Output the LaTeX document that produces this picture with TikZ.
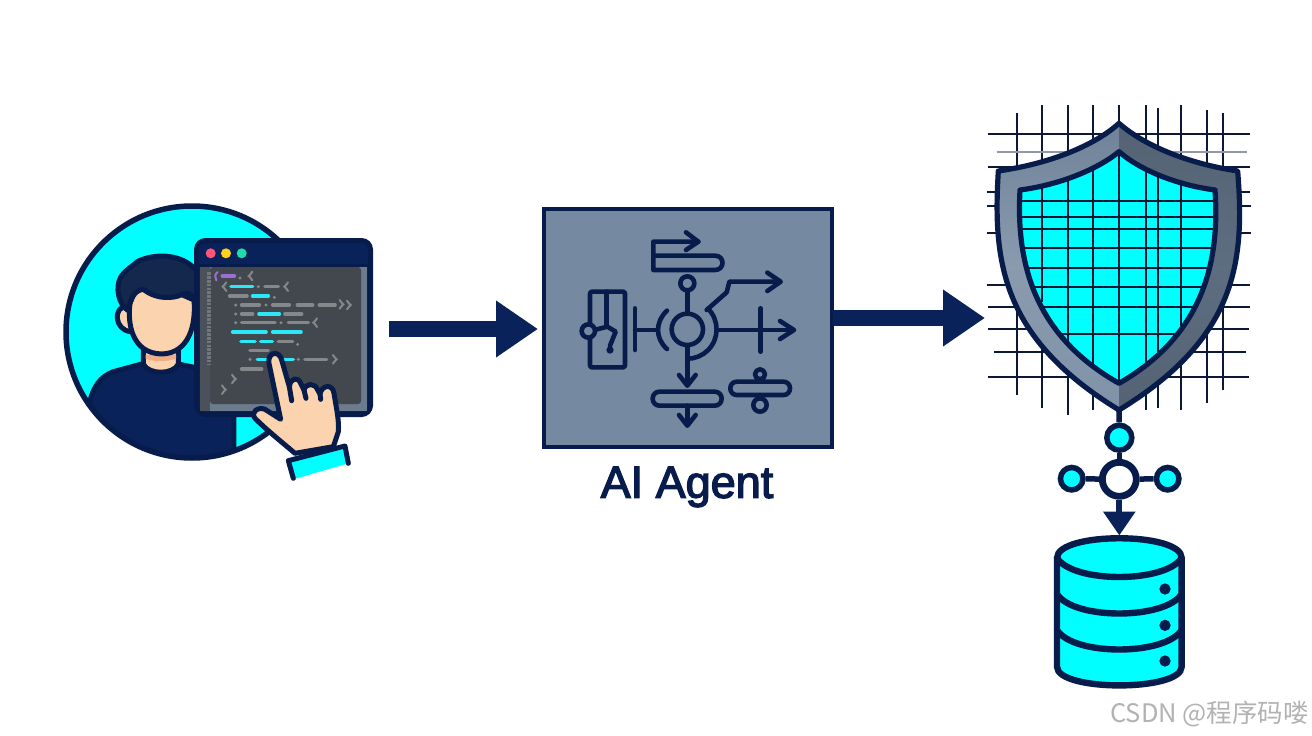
\documentclass[tikz,border=0pt]{standalone}
\usepackage{fontspec}
\usetikzlibrary{arrows.meta}
\setmainfont{Open Sans}
\newfontfamily\cjkmark{Noto Sans CJK SC}
\newfontfamily\agentfont[FakeBold=3]{Liberation Sans}
\definecolor{navy}{HTML}{081C4C}
\definecolor{bodyblue}{HTML}{0A225A}
\definecolor{hairdark}{HTML}{13284C}
\definecolor{aqua}{HTML}{00FFFF}
\definecolor{skin}{HTML}{FBD3AE}
\definecolor{slate}{HTML}{7589A0}
\definecolor{codebg}{HTML}{43484F}
\definecolor{codeedge}{HTML}{6C7C8E}
\definecolor{codegrey}{HTML}{85888B}
\definecolor{codecyan}{HTML}{2CE8F6}
\definecolor{codeviolet}{HTML}{9A6FD0}
\definecolor{gridink}{HTML}{0B1836}
\definecolor{dotred}{HTML}{FF5577}
\definecolor{dotyellow}{HTML}{FFD21A}
\definecolor{dotgreen}{HTML}{1FDCA8}
\tikzset{
  outline/.style={draw=navy,line width=5pt,line join=round,line cap=round},
  glyph/.style={draw=navy,line width=4.6pt,line join=round,line cap=round},
  bigarrow/.style={draw=bodyblue,line width=16pt,-{Triangle[length=42pt,width=54pt]}},
  hub/.style={circle,draw=navy,line width=5.5pt,inner sep=0pt,fill=aqua},
  spoke/.style={draw=navy,line width=5.5pt},
  codebar/.style={line width=3.6pt,line cap=round},
  codebrace/.style={draw=codegrey,line width=2pt,line cap=round},
  gridline/.style={draw=gridink,line width=1.7pt},
  band/.style={draw=navy,line width=6.4pt,line cap=round}
}
\begin{document}
\begin{tikzpicture}[x=1pt,y=-1pt]
\useasboundingbox (0,0) rectangle (1312,736);
\fill[white] (0,0) rectangle (1312,736);

% ---- developer at a code window ----
\begin{scope}[shift={(50,190)},x=.33333pt,y=-.33333pt]
  \fill[aqua] (426,426) circle[radius=375];
  \begin{scope}
    \clip (426,426) circle[radius=380];
    \fill[bodyblue] (118,640) .. controls (130,590) and (150,560) .. (190,545)
      -- (275,520) -- (390,520) -- (470,540) -- (552,560) -- (552,830) -- (100,830) -- cycle;
    \draw[outline] (118,640) .. controls (130,590) and (150,560) .. (190,545)
      -- (275,522) (385,522) -- (470,540) (552,660) -- (552,790);
  \end{scope}
  \draw[draw=navy,line width=5.5pt] (426,426) circle[radius=378];
  % neck
  \filldraw[fill=skin,outline] (280,480) -- (280,522) .. controls (295,555) and (370,555) .. (385,522) -- (385,480) -- cycle;
  \fill[fill=skin!88!red!80!brown] (287,495) -- (378,495) -- (378,506) .. controls (350,516) and (315,516) .. (287,506) -- cycle;
  % ear, head, hair
  \filldraw[fill=skin,outline] (228,350) .. controls (190,350) and (192,420) .. (242,425) -- (252,380) -- cycle;
  \filldraw[fill=skin,outline] (240,340) .. controls (232,400) and (245,490) .. (335,492)
     .. controls (420,490) and (438,400) .. (432,330) -- (340,290) -- (260,290) -- cycle;
  \filldraw[fill=hairdark,outline] (235,362) .. controls (205,345) and (195,290) .. (212,262)
     .. controls (225,240) and (240,235) .. (262,215) .. controls (310,190) and (385,192) .. (425,228)
     -- (440,240) -- (440,340) .. controls (425,305) and (410,305) .. (385,318)
     .. controls (350,328) and (310,322) .. (280,298) .. controls (255,300) and (240,325) .. (235,362) -- cycle;
\end{scope}

% code window
\filldraw[fill=bodyblue,draw=navy,line width=5pt,rounded corners=9pt] (196.5,240.5) rectangle (370.5,414.5);
\fill[codeedge] (200,266) rectangle (367,411);
\fill[codebg!82!codeedge] (200,266) rectangle (210,411);
\fill[codebg,rounded corners=3pt] (210,267) rectangle (361,404);
\fill[navy] (199,264) rectangle (368,267);
\fill[dotred] (210.7,253.3) circle[radius=5];
\fill[dotyellow] (226,253.3) circle[radius=5];
\fill[dotgreen] (241.7,253.3) circle[radius=5];

\begin{scope}[shift={(195,235)},x=.33333pt,y=-.33333pt]
  \draw[codegrey,line width=4pt,dash pattern=on 2.6pt off 1.2pt,opacity=.7] (41,112) -- (41,388);
  \foreach \yy/\xa/\xb in {155/210/250,183/104/156,210/140/193,210/233/283,210/307/353,210/373/420,
      237/140/173,237/270/320,263/140/240,263/280/340,320/250/293,346/165/220,373/330/395,402/140/200}
    \draw[codebar,codegrey] (\xa,\yy) -- (\xb,\yy);
  \foreach \yy/\xa/\xb in {155/108/173,183/173/220,237/192/253,291/113/213,291/233/318,320/138/180,320/197/232,373/187/295}
    \draw[codebar,codecyan] (\xa,\yy) -- (\xb,\yy);
  \draw[codebar,codeviolet] (82,123) -- (118,123);
  \draw[codeviolet,line width=2pt,line cap=round] (68,111) .. controls (58,118) and (60,128) .. (64,136);
  \foreach \xx/\yy in {135/129,190/155,238/187,122/210,213/210,122/237,122/263,258/263,308/328,165/373,310/373}
    \fill[codegrey] (\xx,\yy) circle[radius=5];
  \fill[black!70] (295,210) circle[radius=5];
  % braces and closing marks
  \foreach \xx/\yy in {168/123,90/155,275/155,362/263}
    \draw[codebrace] (\xx+4,\yy-13) .. controls (\xx-3,\yy-8) and (\xx+1,\yy-3) .. (\xx-7,\yy)
       .. controls (\xx+1,\yy+3) and (\xx-3,\yy+8) .. (\xx+4,\yy+13);
  \foreach \xx/\yy in {438/208,460/210,418/373,115/432,85/464}
    \draw[codebrace] (\xx-4,\yy-13) .. controls (\xx+3,\yy-8) and (\xx-1,\yy-3) .. (\xx+7,\yy)
       .. controls (\xx-1,\yy+3) and (\xx+3,\yy+8) .. (\xx-4,\yy+13);
\end{scope}

% pointing hand and cuff
\begin{scope}[shift={(50,190)},x=.33333pt,y=-.33333pt]
  \fill[aqua] (715,812) -- (885,768) -- (895,820) -- (730,868) -- cycle;
  \draw[outline] (730,865) -- (715,812) -- (885,768) -- (895,820);
  \filldraw[fill=skin,outline] (735,790)
     .. controls (700,760) and (650,720) .. (615,685) .. controls (600,665) and (625,650) .. (645,658)
     -- (692,688) -- (657,520) .. controls (652,485) and (688,480) .. (695,510)
     -- (718,590) .. controls (722,562) and (745,560) .. (752,580)
     -- (762,600) .. controls (768,578) and (795,578) .. (803,600)
     -- (810,612) .. controls (815,585) and (848,580) .. (852,610)
     .. controls (858,650) and (868,690) .. (865,725) -- (850,770) -- cycle;
  \draw[outline] (718,590) -- (725,632) (762,600) -- (768,625) (810,612) -- (812,628);
\end{scope}

% ---- agent panel ----
\node[draw=navy,line width=4.6pt,fill=slate,inner sep=0pt,minimum width=288pt,minimum height=238pt] (agent) at (688,328) {};
\node[text=navy,font=\agentfont\fontsize{45}{48}\selectfont,inner sep=0pt] (agentlabel) at (687,487) {AI Agent};

\begin{scope}[shift={(530,195)},x=.33333pt,y=-.33333pt]
  % upper bar with outgoing arrow
  \draw[glyph] (505,140) -- (370,140) -- (370,225) -- (555,225)
     .. controls (585,225) and (585,182) .. (555,182) -- (370,182);
  \draw[glyph] (468,112) -- (505,140) -- (468,165);
  % central ring with stems
  \draw[glyph] (472,403) circle[radius=47];
  \draw[glyph] (472,265) circle[radius=21];
  \draw[glyph] (472,286) -- (472,352);
  \draw[glyph] (472,452) -- (472,570);
  \draw[glyph] (447,540) -- (472,572) -- (497,540);
  \draw[glyph] (534,341) arc[start angle=-45,end angle=90,radius=88];
  \draw[glyph] (411,347) .. controls (375,380) and (375,430) .. (411,462);
  % module on the left
  \draw[glyph,rounded corners=2pt] (180,290) rectangle (285,517);
  \draw[glyph] (230,290) -- (230,395);
  \draw[glyph] (197,404) -- (232,395) -- (257,410) -- (240,452);
  \fill[navy] (240,465) circle[radius=11];
  \filldraw[fill=slate,glyph] (175,408) circle[radius=20];
  \draw[glyph] (315,340) -- (315,465);
  \draw[glyph] (315,405) -- (383,405);
  % arrows on the right
  \draw[glyph] (565,405) -- (790,405);
  \draw[glyph] (750,378) -- (792,405) -- (750,432);
  \draw[glyph] (692,340) -- (692,470);
  \draw[glyph] (530,345) -- (590,292) -- (598,260) -- (750,260);
  \draw[glyph] (712,233) -- (752,260) -- (712,288);
  % lower pills
  \draw[glyph,rounded corners=6.8pt] (368,590) rectangle (575,632);
  \draw[glyph] (472,632) -- (472,690);
  \draw[glyph] (447,660) -- (472,692) -- (497,660);
  \draw[glyph,rounded corners=6.4pt] (601,560) rectangle (780,600);
  \draw[glyph] (690,538) circle[radius=15];
  \draw[glyph] (690,630) circle[radius=20];
  \draw[glyph] (690,553) -- (690,560) (690,600) -- (690,610);
\end{scope}

% ---- shield over a mesh ----
\begin{scope}[shift={(970,95)},x=.33333pt,y=-.33333pt]
  \foreach \xx/\ya/\yb in {141/55/900,215/30/940,293/30/960,368/30/945,447/30/90,527/30/945,563/38/940,633/30/945,710/45/925,758/55/885}
    \draw[gridline] (\xx,\ya) -- (\xx,\yb);
  \foreach \yy/\xa/\xb in {118/55/840,217/55/840,291/50/840,333/50/842,413/50/842,571/50/840,635/55/840,703/55/838,770/72/828,845/55/838}
    \draw[gridline] (\xa,\yy) -- (\xb,\yy);
  \draw[gridline,draw=gridink!45] (80,170) -- (832,170);

  \def\outerpath{(447,85) .. controls (520,150) and (650,205) .. (803,228)
     .. controls (825,500) and (800,730) .. (447,945)
     .. controls (95,730) and (68,500) .. (85,228)
     .. controls (245,205) and (375,150) .. (447,85) -- cycle}
  \def\innerpath{(447,170) .. controls (510,225) and (620,270) .. (735,285)
     .. controls (750,500) and (700,720) .. (447,865)
     .. controls (190,720) and (138,500) .. (150,285)
     .. controls (265,270) and (380,225) .. (447,170) -- cycle}
  \begin{scope}
    \clip \outerpath;
    \fill[top color=slate!95!black,bottom color=slate!92!white,middle color=slate!85!white] (60,80) rectangle (447,950);
    \fill[top color=slate!72!black,bottom color=slate!72!black,middle color=slate!80!black] (447,80) rectangle (830,950);
  \end{scope}
  \fill[aqua] \innerpath;
  \begin{scope}
    \clip \innerpath;
    \foreach \xx/\ya/\yb in {215/250/620,293/230/760,368/200/830,447/170/870,527/200/830,563/230/800,633/240/700}
      \draw[gridline,line width=1.8pt] (\xx,\ya) -- (\xx,\yb);
    \foreach \yy in {317,367,402,458,518,576,635,716}
      \draw[gridline,line width=1.8pt] (100,\yy) -- (800,\yy);
  \end{scope}
  \draw[outline,line width=5.2pt] \innerpath;
  \draw[outline,line width=5.2pt] \outerpath;
\end{scope}

% ---- gateway hub and storage ----
\coordinate (shieldtip) at (1119,408);
\node[hub,minimum size=25pt] (hubtop) at (1119.3,437.7) {};
\node[hub,minimum size=34pt,fill=white,line width=6.8pt] (hubcentre) at (1119.3,479.3) {};
\node[hub,minimum size=22.5pt] (hubleft) at (1071.7,478.7) {};
\node[hub,minimum size=22.5pt] (hubright) at (1167.7,478.7) {};
\coordinate (dbtop) at (1119.3,535.5);
\draw[spoke] (shieldtip) -- (hubtop);
\draw[spoke] (hubtop) -- (hubcentre);
\draw[spoke] (hubleft) -- (hubcentre);
\draw[spoke] (hubright) -- (hubcentre);

\begin{scope}[shift={(1030,400)},x=.33333pt,y=-.33333pt]
  \fill[aqua] (81,474) -- (81,800) .. controls (81,875) and (455,875) .. (455,800) -- (455,474)
     .. controls (455,395) and (81,395) .. (81,474) -- cycle;
  \draw[band] (81,474) -- (81,800) .. controls (81,875) and (455,875) .. (455,800) -- (455,474)
     .. controls (455,395) and (81,395) .. (81,474) -- cycle;
  \draw[band] (81,474) .. controls (130,550) and (405,550) .. (455,474);
  \draw[band] (81,582) .. controls (130,660) and (405,660) .. (455,582);
  \draw[band] (81,690) .. controls (130,768) and (405,768) .. (455,690);
  \foreach \yy in {567,676,783}
    \fill[navy] (405,\yy) circle[radius=17];
\end{scope}
\draw[draw=bodyblue,line width=6pt,-{Triangle[length=24pt,width=31pt]}] (hubcentre) -- (dbtop);

% ---- flow arrows ----
\coordinate (devout) at (389,329);
\coordinate (agentin) at (538,329);
\coordinate (agentout) at (833,318);
\coordinate (shieldin) at (985,318);
\draw[bigarrow] (devout) -- (agentin);
\draw[bigarrow] (agentout) -- (shieldin);

% ---- credit line ----
\node[text=black!30,anchor=east,inner sep=0pt,font=\cjkmark\fontsize{25.5}{28}\selectfont] (credit) at (1309,714) {CSDN @程序码喽};
\end{tikzpicture}
\end{document}
